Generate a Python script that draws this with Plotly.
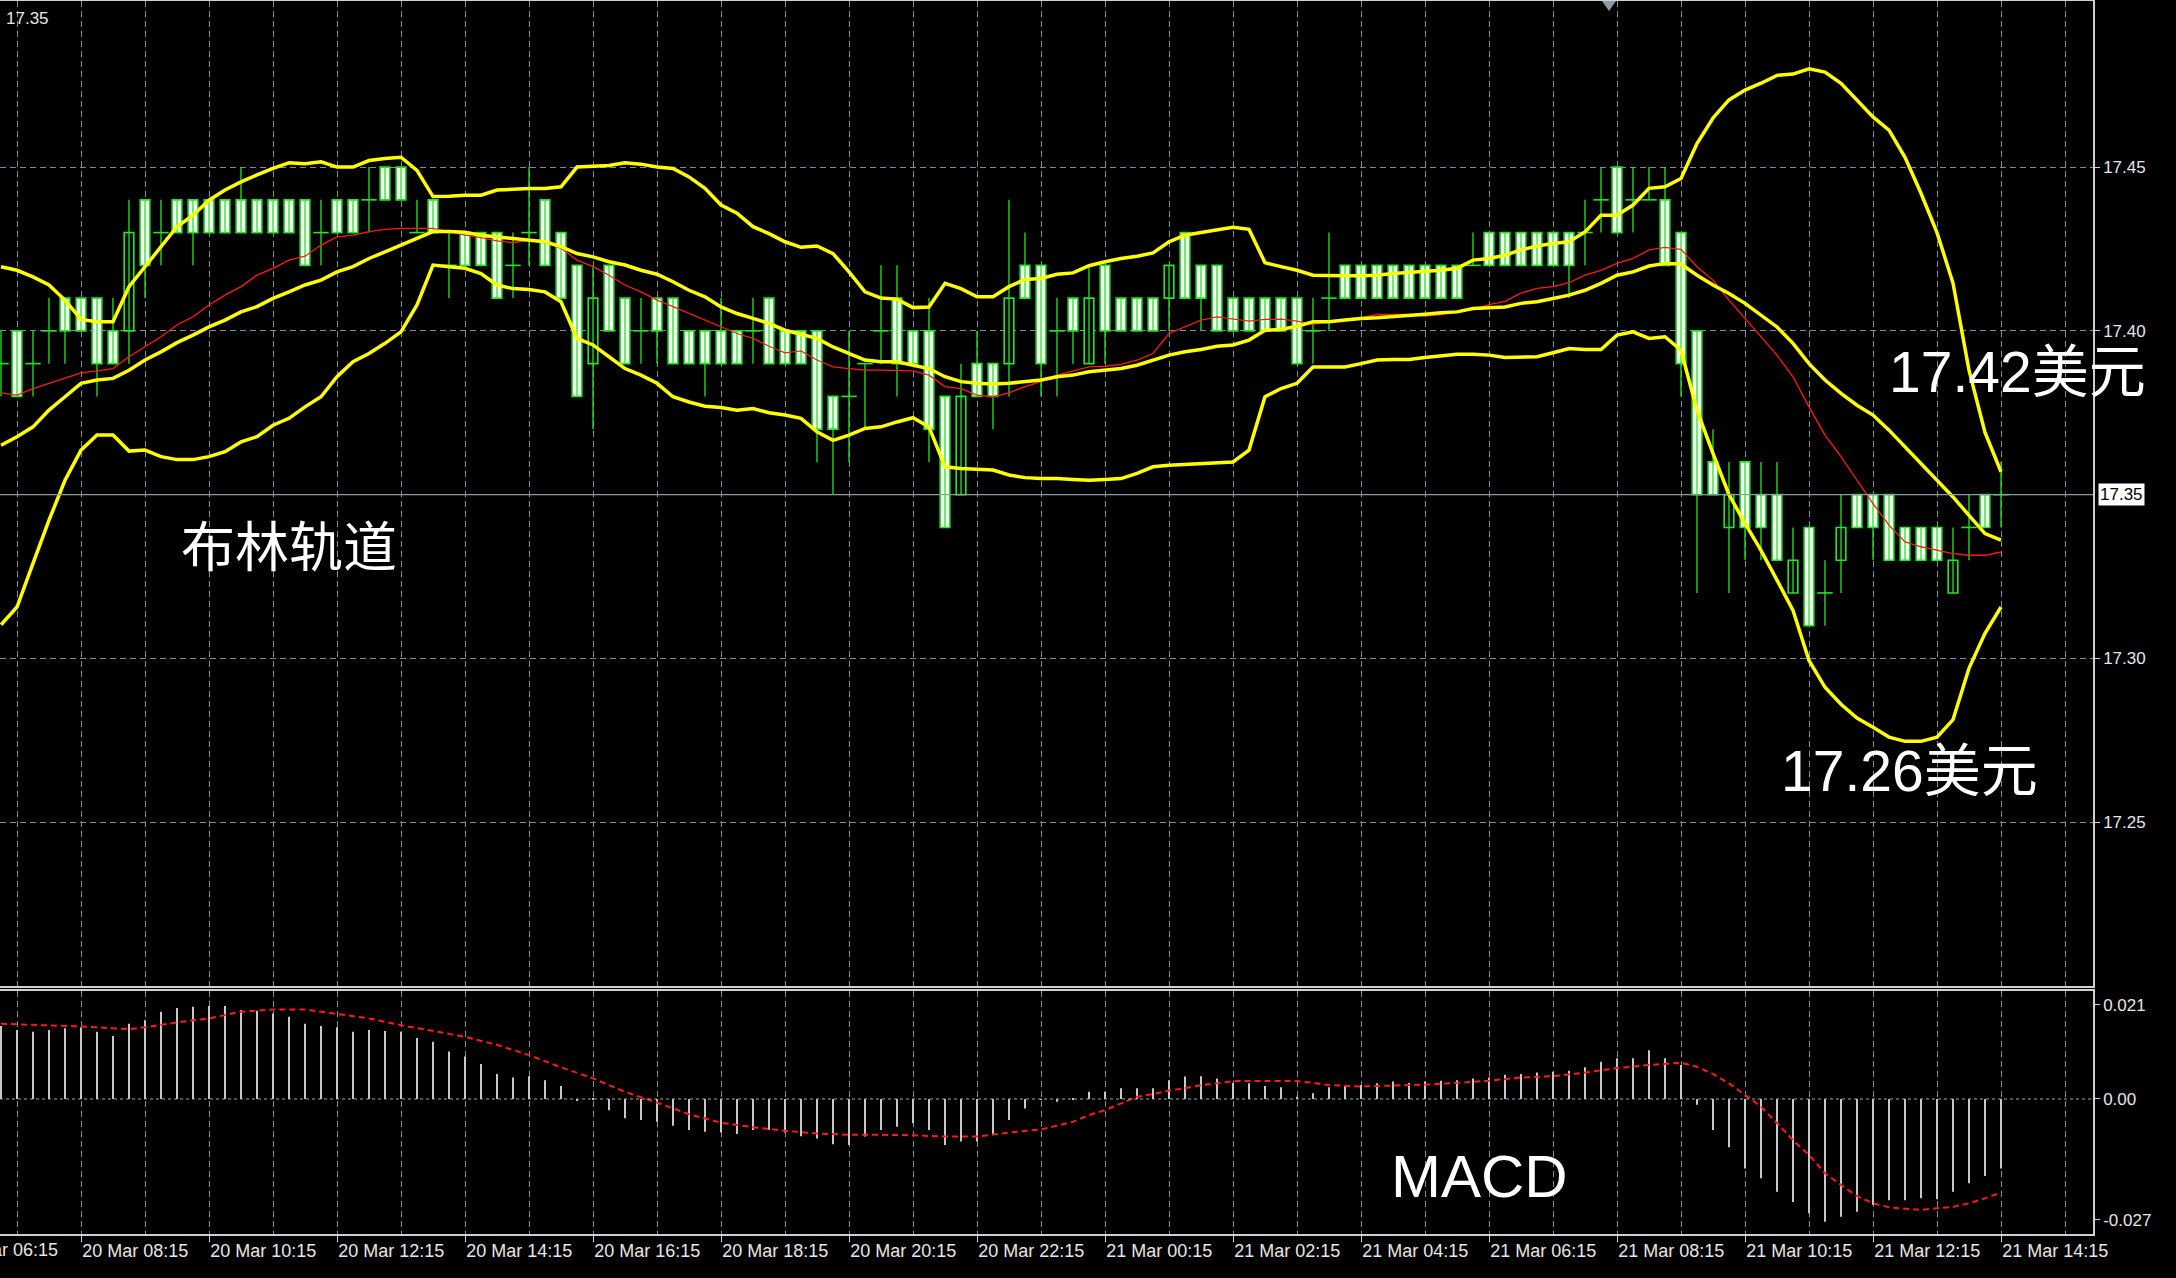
import plotly.graph_objects as go

# ---------------- data (15-minute bars, index 0 = 20 Mar 08:15) ----------------
bar_index = list(range(-5, 121))

opens = [17.39, 17.40, 17.39, 17.40, 17.41, 17.41, 17.41, 17.40, 17.40, 17.44,
         17.43, 17.44, 17.44, 17.44, 17.44, 17.44, 17.44, 17.44, 17.44, 17.44,
         17.43, 17.44, 17.44, 17.44, 17.45, 17.45, 17.43, 17.44, 17.42, 17.43,
         17.43, 17.43, 17.42, 17.43, 17.44, 17.43, 17.42, 17.39, 17.42, 17.41,
         17.40, 17.41, 17.41, 17.40, 17.40, 17.40, 17.40, 17.40, 17.41, 17.40,
         17.40, 17.40, 17.38, 17.38, 17.39, 17.40, 17.41, 17.40, 17.40, 17.38,
         17.35, 17.39, 17.39, 17.39, 17.42, 17.42, 17.40, 17.41, 17.39, 17.42,
         17.41, 17.41, 17.41, 17.41, 17.43, 17.42, 17.42, 17.41, 17.41, 17.41,
         17.41, 17.41, 17.40, 17.41, 17.42, 17.42, 17.42, 17.42, 17.42, 17.42,
         17.42, 17.42, 17.42, 17.43, 17.43, 17.43, 17.43, 17.43, 17.43, 17.43,
         17.44, 17.45, 17.44, 17.44, 17.44, 17.43, 17.40, 17.36, 17.34, 17.36,
         17.35, 17.35, 17.32, 17.34, 17.32, 17.33, 17.35, 17.35, 17.35, 17.34,
         17.34, 17.34, 17.32, 17.34, 17.35, 17.35]

highs = [17.40, 17.40, 17.40, 17.41, 17.41, 17.41, 17.41, 17.41, 17.44, 17.44,
         17.44, 17.44, 17.44, 17.44, 17.44, 17.45, 17.44, 17.44, 17.44, 17.44,
         17.44, 17.44, 17.44, 17.45, 17.45, 17.45, 17.44, 17.44, 17.43, 17.43,
         17.43, 17.43, 17.43, 17.45, 17.44, 17.43, 17.42, 17.42, 17.42, 17.41,
         17.41, 17.41, 17.41, 17.40, 17.40, 17.41, 17.40, 17.41, 17.41, 17.40,
         17.40, 17.40, 17.38, 17.40, 17.39, 17.42, 17.42, 17.40, 17.41, 17.38,
         17.39, 17.40, 17.39, 17.44, 17.43, 17.42, 17.41, 17.41, 17.42, 17.42,
         17.41, 17.41, 17.41, 17.42, 17.43, 17.42, 17.42, 17.41, 17.41, 17.41,
         17.41, 17.41, 17.41, 17.43, 17.42, 17.42, 17.42, 17.42, 17.42, 17.42,
         17.42, 17.42, 17.43, 17.43, 17.43, 17.43, 17.43, 17.43, 17.43, 17.44,
         17.45, 17.45, 17.45, 17.45, 17.45, 17.43, 17.40, 17.37, 17.36, 17.36,
         17.36, 17.36, 17.34, 17.34, 17.33, 17.35, 17.35, 17.35, 17.35, 17.34,
         17.34, 17.34, 17.34, 17.35, 17.35, 17.36]

lows = [17.38, 17.38, 17.38, 17.39, 17.39, 17.40, 17.38, 17.39, 17.39, 17.41,
        17.42, 17.43, 17.42, 17.43, 17.43, 17.43, 17.43, 17.43, 17.43, 17.42,
        17.42, 17.43, 17.43, 17.43, 17.44, 17.44, 17.43, 17.43, 17.41, 17.42,
        17.42, 17.41, 17.41, 17.42, 17.42, 17.41, 17.38, 17.37, 17.40, 17.39,
        17.39, 17.39, 17.39, 17.39, 17.38, 17.39, 17.39, 17.39, 17.39, 17.39,
        17.39, 17.36, 17.35, 17.36, 17.37, 17.39, 17.38, 17.39, 17.36, 17.34,
        17.35, 17.38, 17.37, 17.38, 17.41, 17.38, 17.38, 17.39, 17.39, 17.39,
        17.40, 17.40, 17.40, 17.40, 17.41, 17.40, 17.40, 17.40, 17.40, 17.40,
        17.40, 17.39, 17.39, 17.40, 17.41, 17.41, 17.41, 17.41, 17.41, 17.41,
        17.41, 17.41, 17.42, 17.42, 17.42, 17.42, 17.42, 17.42, 17.41, 17.42,
        17.43, 17.43, 17.43, 17.44, 17.42, 17.38, 17.32, 17.35, 17.32, 17.33,
        17.33, 17.33, 17.32, 17.31, 17.31, 17.32, 17.34, 17.33, 17.33, 17.33,
        17.33, 17.33, 17.32, 17.33, 17.34, 17.34]

closes = [17.39, 17.38, 17.39, 17.40, 17.40, 17.40, 17.39, 17.39, 17.43, 17.42,
          17.43, 17.43, 17.43, 17.43, 17.43, 17.43, 17.43, 17.43, 17.43, 17.42,
          17.43, 17.43, 17.43, 17.44, 17.44, 17.44, 17.43, 17.43, 17.42, 17.42,
          17.42, 17.41, 17.42, 17.43, 17.42, 17.41, 17.38, 17.41, 17.40, 17.39,
          17.40, 17.40, 17.39, 17.39, 17.39, 17.39, 17.39, 17.40, 17.39, 17.39,
          17.39, 17.37, 17.37, 17.38, 17.39, 17.40, 17.39, 17.39, 17.37, 17.34,
          17.38, 17.38, 17.38, 17.41, 17.41, 17.39, 17.40, 17.40, 17.41, 17.40,
          17.40, 17.40, 17.40, 17.42, 17.41, 17.41, 17.40, 17.40, 17.40, 17.40,
          17.40, 17.39, 17.40, 17.41, 17.41, 17.41, 17.41, 17.41, 17.41, 17.41,
          17.41, 17.41, 17.42, 17.42, 17.42, 17.42, 17.42, 17.42, 17.42, 17.43,
          17.44, 17.43, 17.44, 17.44, 17.42, 17.39, 17.35, 17.35, 17.35, 17.34,
          17.34, 17.33, 17.33, 17.31, 17.32, 17.34, 17.34, 17.34, 17.33, 17.33,
          17.33, 17.33, 17.33, 17.34, 17.34, 17.35]

bb_upper = [17.4196, 17.4185, 17.4165, 17.4140, 17.4094, 17.4035, 17.4028, 17.4028, 17.4135, 17.4196,
            17.4257, 17.4318, 17.4353, 17.4399, 17.4430, 17.4455, 17.4476, 17.4496, 17.4513, 17.4510,
            17.4516, 17.4500, 17.4500, 17.4520, 17.4526, 17.4530, 17.4490, 17.4410, 17.4411, 17.4414,
            17.4414, 17.4430, 17.4432, 17.4435, 17.4435, 17.4440, 17.4500, 17.4503, 17.4505, 17.4513,
            17.4509, 17.4500, 17.4496, 17.4470, 17.4435, 17.4384, 17.4359, 17.4318, 17.4297, 17.4272,
            17.4255, 17.4259, 17.4236, 17.4180, 17.4119, 17.4100, 17.4097, 17.4071, 17.4073, 17.4145,
            17.4129, 17.4104, 17.4104, 17.4135, 17.4157, 17.4160, 17.4173, 17.4177, 17.4199, 17.4211,
            17.4221, 17.4228, 17.4238, 17.4272, 17.4292, 17.4300, 17.4308, 17.4316, 17.4310, 17.4208,
            17.4196, 17.4185, 17.4170, 17.4168, 17.4168, 17.4168, 17.4170, 17.4175, 17.4178, 17.4182,
            17.4185, 17.4191, 17.4216, 17.4221, 17.4231, 17.4247, 17.4259, 17.4267, 17.4272, 17.4302,
            17.4353, 17.4353, 17.4384, 17.4435, 17.4440, 17.4465, 17.4572, 17.4650, 17.4705, 17.4735,
            17.4756, 17.4780, 17.4784, 17.4800, 17.4790, 17.4756, 17.4705, 17.4653, 17.4613, 17.4530,
            17.4420, 17.4300, 17.4146, 17.3880, 17.3690, 17.3570]

bb_middle = [17.3651, 17.3677, 17.3707, 17.3758, 17.3799, 17.3840, 17.3850, 17.3855, 17.3880, 17.3911,
             17.3936, 17.3964, 17.3987, 17.4012, 17.4033, 17.4058, 17.4074, 17.4099, 17.4119, 17.4140,
             17.4155, 17.4180, 17.4196, 17.4221, 17.4241, 17.4262, 17.4282, 17.4303, 17.4303, 17.4301,
             17.4292, 17.4287, 17.4282, 17.4277, 17.4272, 17.4257, 17.4236, 17.4226, 17.4211, 17.4201,
             17.4185, 17.4173, 17.4150, 17.4124, 17.4104, 17.4073, 17.4053, 17.4038, 17.4023, 17.4002,
             17.3989, 17.3977, 17.3951, 17.3931, 17.3911, 17.3906, 17.3906, 17.3895, 17.3885, 17.3860,
             17.3845, 17.3840, 17.3838, 17.3840, 17.3845, 17.3850, 17.3860, 17.3865, 17.3875, 17.3880,
             17.3885, 17.3895, 17.3911, 17.3926, 17.3936, 17.3943, 17.3953, 17.3957, 17.3972, 17.4002,
             17.4004, 17.4014, 17.4028, 17.4028, 17.4033, 17.4038, 17.4040, 17.4043, 17.4048, 17.4051,
             17.4055, 17.4058, 17.4068, 17.4071, 17.4073, 17.4084, 17.4089, 17.4099, 17.4109, 17.4124,
             17.4145, 17.4170, 17.4180, 17.4198, 17.4206, 17.4204, 17.4170, 17.4140, 17.4114, 17.4084,
             17.4048, 17.4012, 17.3962, 17.3900, 17.3850, 17.3809, 17.3773, 17.3743, 17.3697, 17.3646,
             17.3595, 17.3544, 17.3493, 17.3437, 17.3381, 17.3361]

bb_lower = [17.3103, 17.3157, 17.3290, 17.3422, 17.3544, 17.3636, 17.3682, 17.3682, 17.3633, 17.3636,
            17.3616, 17.3607, 17.3607, 17.3616, 17.3631, 17.3661, 17.3677, 17.3712, 17.3733, 17.3768,
            17.3799, 17.3860, 17.3906, 17.3931, 17.3962, 17.3997, 17.4079, 17.4201, 17.4196, 17.4191,
            17.4175, 17.4140, 17.4129, 17.4126, 17.4119, 17.4089, 17.3977, 17.3957, 17.3921, 17.3885,
            17.3865, 17.3840, 17.3799, 17.3783, 17.3770, 17.3766, 17.3758, 17.3763, 17.3750, 17.3743,
            17.3733, 17.3692, 17.3666, 17.3682, 17.3702, 17.3707, 17.3722, 17.3735, 17.3707, 17.3585,
            17.3580, 17.3577, 17.3575, 17.3560, 17.3552, 17.3549, 17.3549, 17.3546, 17.3544, 17.3546,
            17.3549, 17.3565, 17.3585, 17.3590, 17.3593, 17.3595, 17.3598, 17.3600, 17.3636, 17.3799,
            17.3824, 17.3840, 17.3890, 17.3890, 17.3890, 17.3900, 17.3911, 17.3913, 17.3913, 17.3919,
            17.3923, 17.3929, 17.3929, 17.3926, 17.3919, 17.3919, 17.3921, 17.3933, 17.3946, 17.3943,
            17.3943, 17.3987, 17.3997, 17.3977, 17.3982, 17.3941, 17.3758, 17.3626, 17.3500, 17.3412,
            17.3330, 17.3239, 17.3147, 17.2994, 17.2912, 17.2860, 17.2818, 17.2790, 17.2760, 17.2747,
            17.2747, 17.2760, 17.2813, 17.2970, 17.3077, 17.3157]

ma_red = [17.3811, 17.3804, 17.3824, 17.3840, 17.3855, 17.3872, 17.3878, 17.3885, 17.3921, 17.3951,
          17.3982, 17.4018, 17.4043, 17.4079, 17.4109, 17.4135, 17.4170, 17.4191, 17.4216, 17.4228,
          17.4262, 17.4287, 17.4292, 17.4303, 17.4310, 17.4313, 17.4313, 17.4313, 17.4303, 17.4292,
          17.4285, 17.4275, 17.4269, 17.4277, 17.4269, 17.4252, 17.4216, 17.4196, 17.4170, 17.4140,
          17.4119, 17.4094, 17.4074, 17.4053, 17.4033, 17.4012, 17.3992, 17.3977, 17.3953, 17.3933,
          17.3939, 17.3911, 17.3890, 17.3885, 17.3880, 17.3880, 17.3880, 17.3878, 17.3865, 17.3830,
          17.3824, 17.3804, 17.3799, 17.3811, 17.3830, 17.3845, 17.3865, 17.3878, 17.3890, 17.3892,
          17.3898, 17.3911, 17.3931, 17.3992, 17.4012, 17.4033, 17.4043, 17.4036, 17.4030, 17.4035,
          17.4036, 17.4030, 17.4020, 17.4030, 17.4035, 17.4040, 17.4050, 17.4050, 17.4050, 17.4045,
          17.4050, 17.4060, 17.4065, 17.4080, 17.4090, 17.4115, 17.4130, 17.4135, 17.4147, 17.4170,
          17.4185, 17.4206, 17.4221, 17.4247, 17.4255, 17.4249, 17.4196, 17.4155, 17.4094, 17.4038,
          17.3982, 17.3926, 17.3860, 17.3768, 17.3682, 17.3616, 17.3544, 17.3473, 17.3407, 17.3356,
          17.3341, 17.3330, 17.3320, 17.3315, 17.3315, 17.3325]

macd_hist = [0.0163, 0.0154, 0.0150, 0.0154, 0.0158, 0.0160, 0.0150, 0.0141, 0.0168, 0.0176,
             0.0195, 0.0203, 0.0206, 0.0208, 0.0208, 0.0199, 0.0197, 0.0191, 0.0184, 0.0168,
             0.0163, 0.0160, 0.0150, 0.0154, 0.0152, 0.0150, 0.0136, 0.0128, 0.0106, 0.0095,
             0.0078, 0.0056, 0.0048, 0.0051, 0.0042, 0.0029, -0.0004, 0.0001, -0.0025, -0.0043,
             -0.0047, -0.0051, -0.0060, -0.0069, -0.0073, -0.0075, -0.0078, -0.0069, -0.0069, -0.0075,
             -0.0083, -0.0088, -0.0101, -0.0103, -0.0084, -0.0069, -0.0062, -0.0054, -0.0069, -0.0103,
             -0.0095, -0.0095, -0.0080, -0.0047, -0.0021, -0.0002, -0.0006, 0.0001, 0.0016, 0.0016,
             0.0024, 0.0024, 0.0024, 0.0042, 0.0050, 0.0051, 0.0046, 0.0036, 0.0035, 0.0029,
             0.0026, 0.0005, 0.0013, 0.0026, 0.0029, 0.0031, 0.0035, 0.0039, 0.0036, 0.0039,
             0.0041, 0.0042, 0.0046, 0.0048, 0.0054, 0.0056, 0.0059, 0.0061, 0.0063, 0.0071,
             0.0083, 0.0091, 0.0091, 0.0109, 0.0091, 0.0076, -0.0013, -0.0069, -0.0108, -0.0155,
             -0.0177, -0.0207, -0.0230, -0.0255, -0.0274, -0.0263, -0.0252, -0.0237, -0.0226, -0.0226,
             -0.0222, -0.0224, -0.0207, -0.0188, -0.0172, -0.0155]

signal_idx = [-5, 0, 3, 4, 6, 8, 10, 12, 14, 16, 18, 20, 22, 24, 26, 28, 30, 32, 34, 36,
              38, 40, 42, 44, 46, 48, 50, 52, 54, 56, 58, 60, 62, 63, 64, 65, 66, 67, 68, 69,
              70, 71, 72, 74, 76, 77, 78, 80, 82, 84, 86, 88, 90, 92, 94, 96, 98, 100, 101, 102,
              103, 104, 105, 106, 107, 108, 109, 110, 111, 112, 113, 114, 115, 116, 117, 118, 119, 120]
signal_val = [0.0168, 0.0162, 0.0156, 0.0160, 0.0171, 0.0180, 0.0195, 0.0200, 0.0200, 0.0190,
              0.0180, 0.0165, 0.0152, 0.0139, 0.0121, 0.0098, 0.0071, 0.0046, 0.0016, -0.0008,
              -0.0034, -0.0053, -0.0063, -0.0071, -0.0077, -0.0080, -0.0080, -0.0081, -0.0084, -0.0084,
              -0.0075, -0.0068, -0.0051, -0.0036, -0.0025, -0.0010, 0.0005, 0.0011, 0.0019, 0.0024,
              0.0031, 0.0035, 0.0040, 0.0040, 0.0040, 0.0036, 0.0031, 0.0028, 0.0030, 0.0032,
              0.0036, 0.0041, 0.0048, 0.0051, 0.0059, 0.0069, 0.0076, 0.0081, 0.0072, 0.0056,
              0.0035, 0.0009, -0.0017, -0.0054, -0.0092, -0.0125, -0.0166, -0.0192, -0.0217, -0.0233,
              -0.0242, -0.0245, -0.0248, -0.0244, -0.0241, -0.0233, -0.0222, -0.0209]

tick_idx = [0, 8, 16, 24, 32, 40, 48, 56, 64, 72, 80, 88, 96, 104, 112, 120]
tick_labels = ["20 Mar 08:15", "20 Mar 10:15", "20 Mar 12:15", "20 Mar 14:15",
               "20 Mar 16:15", "20 Mar 18:15", "20 Mar 20:15", "20 Mar 22:15",
               "21 Mar 00:15", "21 Mar 02:15", "21 Mar 04:15", "21 Mar 06:15",
               "21 Mar 08:15", "21 Mar 10:15", "21 Mar 12:15", "21 Mar 14:15"]
first_label_idx = -8
first_label = "20 Mar 06:15"
grid_idx = [-4, 4, 12, 20, 28, 36, 44, 52, 60, 68, 76, 84, 92, 100, 108, 116, 124]

price_ticks = [17.25, 17.30, 17.40, 17.45]
macd_ticks = [0.021, 0.0, -0.027]
macd_tick_text = ["0.021", "0.00", "-0.027"]
current_price = 17.35

# ---------------- styling ----------------
BG = "#000000"
GREEN = "#1fe81f"
YELLOW = "#ffff00"
RED = "#ff1a1a"
GRID = "#7d8b9a"
FRAME = "#d0d0d0"
TXT = "#e6e6e6"
AXFONT = dict(family="Liberation Sans, Arial, sans-serif", size=17, color=TXT)
XFONT = dict(family="Liberation Sans, Arial, sans-serif", size=18, color=TXT)
DASH = "6px,4px"

X_MIN, X_MAX = -5.0625, 125.75

fig = go.Figure()

# wicks
wx, wy = [], []
for i, h, l in zip(bar_index, highs, lows):
    wx += [i, i, None]
    wy += [l, h, None]
fig.add_trace(go.Scatter(x=wx, y=wy, mode="lines", line=dict(color=GREEN, width=1.3),
                         xaxis="x", yaxis="y", hoverinfo="skip", showlegend=False))

# bodies
bx, bbase, bh, bcol = [], [], [], []
dx, dy = [], []
for i, o, c in zip(bar_index, opens, closes):
    if round(abs(c - o), 4) == 0:
        dx.append(i)
        dy.append(o)
    else:
        bx.append(i)
        bbase.append(min(o, c))
        bh.append(abs(c - o))
        bcol.append("#ffffff" if c < o else "#000000")
fig.add_trace(go.Bar(x=bx, y=bh, base=bbase, width=0.6,
                     marker=dict(color=bcol, line=dict(color=GREEN, width=1.6)),
                     xaxis="x", yaxis="y", hoverinfo="skip", showlegend=False))
fig.add_trace(go.Scatter(x=dx, y=dy, mode="markers",
                         marker=dict(symbol="line-ew", size=11, line=dict(color=GREEN, width=1.6)),
                         xaxis="x", yaxis="y", hoverinfo="skip", showlegend=False))

# moving average (red) and Bollinger bands (yellow)
fig.add_trace(go.Scatter(x=bar_index, y=ma_red, mode="lines", line=dict(color=RED, width=1.3),
                         xaxis="x", yaxis="y", hoverinfo="skip", showlegend=False))
for band in (bb_upper, bb_middle, bb_lower):
    fig.add_trace(go.Scatter(x=bar_index, y=band, mode="lines", line=dict(color=YELLOW, width=3.5),
                             xaxis="x", yaxis="y", hoverinfo="skip", showlegend=False))

# MACD histogram and signal
fig.add_trace(go.Bar(x=bar_index, y=macd_hist, width=0.12,
                     marker=dict(color="#c8c8c8", line=dict(width=0)),
                     xaxis="x2", yaxis="y2", hoverinfo="skip", showlegend=False))
fig.add_trace(go.Scatter(x=signal_idx, y=signal_val, mode="lines",
                         line=dict(color=RED, width=2, dash="6px,4px"),
                         xaxis="x2", yaxis="y2", hoverinfo="skip", showlegend=False))

PRICE_DOMAIN = [0.2011, 1.0]
MACD_DOMAIN = [0.0, 0.1971]

fig.update_layout(
    width=2176, height=1278,
    margin=dict(l=0, r=83, t=1, b=44),
    paper_bgcolor=BG, plot_bgcolor=BG,
    barmode="overlay",
    showlegend=False,
    xaxis=dict(domain=[0, 1], anchor="y", range=[X_MIN, X_MAX],
               tickmode="array", tickvals=tick_idx, showticklabels=False, ticks="",
               showgrid=True, gridcolor=GRID, griddash=DASH, gridwidth=1,
               minor=dict(tickmode="array", tickvals=grid_idx, showgrid=True,
                          gridcolor=GRID, griddash=DASH, gridwidth=1, ticks=""),
               showline=True, mirror=True, linecolor=FRAME, linewidth=1.5, zeroline=False),
    yaxis=dict(domain=PRICE_DOMAIN, anchor="x", side="right", range=[17.2000, 17.5007],
               tickmode="array", tickvals=price_ticks, ticktext=["%.2f" % v for v in price_ticks],
               ticks="outside", ticklen=5, tickcolor=FRAME, tickfont=AXFONT,
               showgrid=True, gridcolor=GRID, griddash=DASH, gridwidth=1,
               showline=True, linecolor=FRAME, linewidth=1.5, zeroline=False),
    xaxis2=dict(domain=[0, 1], anchor="y2", range=[X_MIN, X_MAX], matches="x",
                tickmode="array", tickvals=tick_idx, ticktext=tick_labels,
                ticks="outside", ticklen=6, tickcolor=FRAME, tickfont=XFONT,
                ticklabelposition="outside right", ticklabeloverflow="allow",
                showgrid=True, gridcolor=GRID, griddash=DASH, gridwidth=1,
                minor=dict(tickmode="array", tickvals=grid_idx, showgrid=True,
                           gridcolor=GRID, griddash=DASH, gridwidth=1, ticks=""),
                showline=True, mirror=True, linecolor=FRAME, linewidth=1.5, zeroline=False),
    yaxis2=dict(domain=MACD_DOMAIN, anchor="x2", side="right", range=[-0.03016, 0.02413],
                tickmode="array", tickvals=macd_ticks, ticktext=macd_tick_text,
                ticks="outside", ticklen=5, tickcolor=FRAME, tickfont=AXFONT,
                showgrid=False, showline=True, linecolor=FRAME, linewidth=1.5, zeroline=False),
)

shapes = [
    # current bid line
    dict(type="line", xref="x domain", x0=0, x1=1, yref="y", y0=current_price, y1=current_price,
         line=dict(color="#8a9aac", width=1.3)),
    # MACD zero level
    dict(type="line", xref="x2 domain", x0=0, x1=1, yref="y2", y0=0, y1=0,
         line=dict(color="#9aa8b6", width=1.2, dash="3px,3px")),
    # small shift marker at the top
    dict(type="path", xref="x", yref="paper", xsizemode="pixel", ysizemode="pixel",
         xanchor=95.5, yanchor=1, path="M-7,0 L7,0 L0,-10 Z",
         fillcolor="#8c9aa8", line=dict(width=0)),
]
fig.update_layout(shapes=shapes)

BIG = "Liberation Sans Narrow, Liberation Sans, Noto Sans CJK SC, sans-serif"
first_frac = (first_label_idx - X_MIN) / (X_MAX - X_MIN)
annotations = [
    dict(xref="paper", x=1, xanchor="left", xshift=5, yref="y", y=current_price,
         text="%.2f" % current_price, showarrow=False, bgcolor="#ffffff", borderpad=1,
         font=dict(family="Liberation Sans, Arial, sans-serif", size=17, color="#000000")),
    dict(xref="paper", x=0, xanchor="left", xshift=4, yref="paper", y=1, yanchor="top", yshift=-6,
         text="%.2f" % current_price, showarrow=False, font=AXFONT),
    dict(xref="paper", x=first_frac, xanchor="left", xshift=-3, yref="paper", y=0, yanchor="top",
         yshift=-4, text=first_label, showarrow=False, font=XFONT),
    dict(xref="x", x=13, yref="y", y=17.335, text="布林轨道", showarrow=False,
         font=dict(family="Noto Sans CJK SC, sans-serif", size=54, color="#ffffff")),
    dict(xref="x", x=121.0, yref="y", y=17.3875, text="17.42美元", showarrow=False,
         font=dict(family=BIG, size=57, color="#ffffff")),
    dict(xref="x", x=114.3, yref="y", y=17.2656, text="17.26美元", showarrow=False,
         font=dict(family=BIG, size=57, color="#ffffff")),
    dict(xref="x2", x=87.4, yref="y2", y=-0.0174, text="MACD", showarrow=False,
         font=dict(family="Liberation Sans Narrow, Liberation Sans, sans-serif", size=60, color="#ffffff")),
]
fig.update_layout(annotations=annotations)

fig.write_html("out.html", config={"displayModeBar": False},
               post_script="document.body.style.margin='0';")
